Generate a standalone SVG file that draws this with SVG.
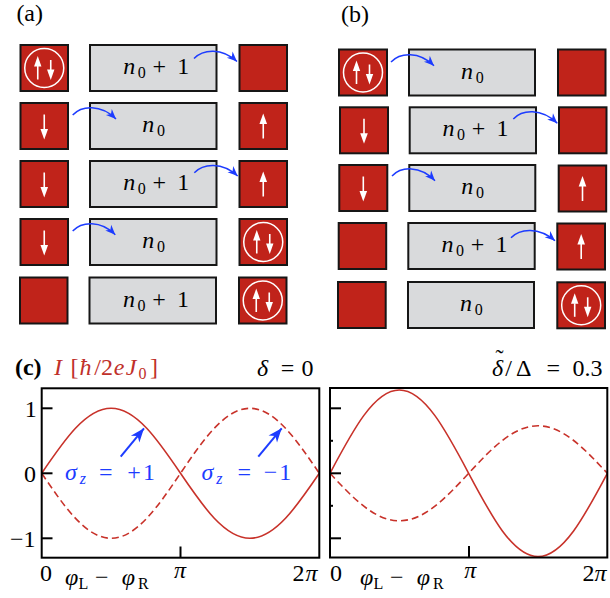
<svg xmlns="http://www.w3.org/2000/svg" xmlns:xlink="http://www.w3.org/1999/xlink" width="610" height="598" viewBox="0 0 610 598">
<style>
.t{font-family:"Liberation Serif","Times New Roman",serif;font-size:24px;fill:#000}
.c{text-anchor:middle}
.i{font-style:italic}
.s{font-size:16px}
.site{fill:#c0231a;stroke:#161616;stroke-width:2}
.dot{fill:#d9dadc;stroke:#161616;stroke-width:2}
.sp line{stroke:#fff;stroke-width:1.6}
.sp polygon{fill:#fff}
.sp circle{fill:none;stroke:#fff;stroke-width:1.5}
.hop{fill:none;stroke:#1d3cff;stroke-width:1.5;marker-end:url(#ah)}
.frame{fill:none;stroke:#000;stroke-width:2}
.tick{stroke:#000;stroke-width:2}
.cur{fill:none;stroke:#c8322a;stroke-width:1.6}
.dash{stroke-dasharray:7 4}
.red{fill:#c0302a}
.blue{fill:#1d3cff}
</style>
<defs>
<marker id="ah" viewBox="-11 -6 12 12" refX="0" refY="0" markerWidth="12" markerHeight="12" markerUnits="userSpaceOnUse" orient="auto">
<path d="M0,0 L-10,-4.2 L-7,0 L-10,4.2 Z" fill="#1d3cff"/>
</marker>
<marker id="ah2" viewBox="-15 -7 16 14" refX="0" refY="0" markerWidth="16" markerHeight="14" markerUnits="userSpaceOnUse" orient="auto">
<path d="M0,0 L-14,-5.5 L-10,0 L-14,5.5 Z" fill="#1d3cff"/>
</marker>
<g id="dn" class="sp"><line x1="0" y1="-11.5" x2="0" y2="4"/><polygon points="-3.8,3 3.8,3 0,13.5"/></g>
<g id="up" class="sp"><line x1="0" y1="12.5" x2="0" y2="-3"/><polygon points="-3.8,-2 3.8,-2 0,-12.5"/></g>
<g id="pair" class="sp"><circle r="19.5"/><line x1="-6.5" y1="11.5" x2="-6.5" y2="-2"/><polygon points="-10.2,-1.5 -2.8,-1.5 -6.5,-12"/><line x1="6.5" y1="-8" x2="6.5" y2="2"/><polygon points="2.8,1.5 10.2,1.5 6.5,12"/></g>
</defs>
<rect width="610" height="598" fill="#fff"/>

<text class="t c" x="29.7" y="21" font-size="22">(a)</text>
<text class="t c" x="355" y="22" font-size="22">(b)</text>

<!-- panel (a) -->
<g id="a1L"><rect class="site" x="20.5" y="45" width="47.5" height="46"/><use xlink:href="#pair" x="44.25" y="68"/></g>
<g id="a1M"><rect class="dot" x="90" y="45" width="126.5" height="46"/><text class="t c"><tspan class="i" x="129.3" y="74">n</tspan><tspan class="s" x="141.8" y="78">0</tspan><tspan x="159.3" y="74">+</tspan><tspan x="183.3" y="74">1</tspan></text></g>
<g id="a1R"><rect class="site" x="239.5" y="45" width="47.5" height="46"/></g>

<g id="a2L"><rect class="site" x="20.5" y="103" width="47.5" height="46"/><use xlink:href="#dn" x="44.25" y="126"/></g>
<g id="a2M"><rect class="dot" x="90" y="103" width="126.5" height="46"/><text class="t c"><tspan class="i" x="148.3" y="132">n</tspan><tspan class="s" x="161" y="136">0</tspan></text></g>
<g id="a2R"><rect class="site" x="239.5" y="103" width="47.5" height="46"/><use xlink:href="#up" x="263.25" y="126"/></g>

<g id="a3L"><rect class="site" x="20.5" y="161" width="47.5" height="46"/><use xlink:href="#dn" x="44.25" y="184"/></g>
<g id="a3M"><rect class="dot" x="90" y="161" width="126.5" height="46"/><text class="t c"><tspan class="i" x="129.3" y="190">n</tspan><tspan class="s" x="141.8" y="194">0</tspan><tspan x="159.3" y="190">+</tspan><tspan x="183.3" y="190">1</tspan></text></g>
<g id="a3R"><rect class="site" x="239.5" y="161" width="47.5" height="46"/><use xlink:href="#up" x="263.25" y="184"/></g>

<g id="a4L"><rect class="site" x="20.5" y="219" width="47.5" height="46"/><use xlink:href="#dn" x="44.25" y="242"/></g>
<g id="a4M"><rect class="dot" x="90" y="219" width="126.5" height="46"/><text class="t c"><tspan class="i" x="148.3" y="248">n</tspan><tspan class="s" x="161" y="252">0</tspan></text></g>
<g id="a4R"><rect class="site" x="239.5" y="219" width="47.5" height="46"/><use xlink:href="#pair" x="263.25" y="242"/></g>

<g id="a5L"><rect class="site" x="20" y="277.5" width="47.5" height="46"/></g>
<g id="a5M"><rect class="dot" x="89.5" y="277.5" width="126.5" height="46"/><text class="t c"><tspan class="i" x="129" y="306.5">n</tspan><tspan class="s" x="141.5" y="310.5">0</tspan><tspan x="159" y="306.5">+</tspan><tspan x="183" y="306.5">1</tspan></text></g>
<g id="a5R"><rect class="site" x="239" y="277.5" width="47.5" height="46"/><use xlink:href="#pair" x="262.75" y="300.5"/></g>

<!-- panel (b) -->
<g id="b1L"><rect class="site" x="339" y="49.5" width="48" height="46"/><use xlink:href="#pair" x="363" y="72.5"/></g>
<g id="b1M"><rect class="dot" x="409" y="49.5" width="126" height="46"/><text class="t c"><tspan class="i" x="467" y="78.5">n</tspan><tspan class="s" x="479.7" y="82.5">0</tspan></text></g>
<g id="b1R"><rect class="site" x="558" y="49.5" width="47.5" height="46"/></g>

<g id="b2L"><rect class="site" x="340" y="107.3" width="48" height="46"/><use xlink:href="#dn" x="364" y="130.3"/></g>
<g id="b2M"><rect class="dot" x="409.7" y="107.3" width="126.3" height="46"/><text class="t c"><tspan class="i" x="448.5" y="136.3">n</tspan><tspan class="s" x="461" y="140.3">0</tspan><tspan x="478.5" y="136.3">+</tspan><tspan x="502.5" y="136.3">1</tspan></text></g>
<g id="b2R"><rect class="site" x="559" y="107.3" width="47.5" height="46"/></g>

<g id="b3L"><rect class="site" x="339.3" y="165" width="48" height="46"/><use xlink:href="#dn" x="363.3" y="188"/></g>
<g id="b3M"><rect class="dot" x="409.3" y="165" width="126" height="46"/><text class="t c"><tspan class="i" x="467.3" y="194">n</tspan><tspan class="s" x="480" y="198">0</tspan></text></g>
<g id="b3R"><rect class="site" x="558.7" y="165.5" width="47.5" height="46"/><use xlink:href="#up" x="582.5" y="188.5"/></g>

<g id="b4L"><rect class="site" x="338.7" y="223" width="47.5" height="46"/></g>
<g id="b4M"><rect class="dot" x="408.3" y="223" width="126.4" height="46"/><text class="t c"><tspan class="i" x="447.5" y="252">n</tspan><tspan class="s" x="460" y="256">0</tspan><tspan x="477.5" y="252">+</tspan><tspan x="501.5" y="252">1</tspan></text></g>
<g id="b4R"><rect class="site" x="557.3" y="223.5" width="47.7" height="46"/><use xlink:href="#up" x="581.2" y="246.5"/></g>

<g id="b5L"><rect class="site" x="338" y="282" width="47.7" height="46"/></g>
<g id="b5M"><rect class="dot" x="408" y="282" width="126" height="46"/><text class="t c"><tspan class="i" x="466" y="311">n</tspan><tspan class="s" x="478.7" y="315">0</tspan></text></g>
<g id="b5R"><rect class="site" x="557.3" y="282.3" width="47.7" height="46"/><use xlink:href="#pair" x="581.2" y="305.3"/></g>

<!-- connectors -->
<g id="connectors">
<path class="hop" d="M194,58.5 C203,49 222,47.5 237,61.5"/>
<path class="hop" d="M72.7,115 C81.7,105.5 100.7,104 116,119"/>
<path class="hop" d="M194.3,172.7 C203.3,163.2 222.3,161.7 237.7,176"/>
<path class="hop" d="M72.7,231 C81.7,221.5 100.7,220 115.3,234.7"/>
<path class="hop" d="M391,62 C400,52.5 419,51 434,65.7"/>
<path class="hop" d="M513.3,119 C522.3,109.5 541.3,108 557.3,123.3"/>
<path class="hop" d="M392,176 C401,166.5 420,165 435,180.7"/>
<path class="hop" d="M511,237.7 C520,228.2 539,226.7 555,240.7"/>
</g>

<!-- panel (c) -->
<g id="plotL">
<path class="cur" d="M41.7,473.3 C64.33,440 85.98,408.3 111.1,408.3 C136.22,408.3 157.87,440 180.5,473.3 C203.13,506.6 224.78,538.3 249.9,538.3 C275.02,538.3 296.67,506.6 319.3,473.3"/>
<path class="cur dash" d="M41.7,473.3 C64.33,506.6 85.98,538.3 111.1,538.3 C136.22,538.3 157.87,506.6 180.5,473.3 C203.13,440 224.78,408.3 249.9,408.3 C275.02,408.3 296.67,440 319.3,473.3"/>
<rect class="frame" x="41.7" y="388.3" width="277.6" height="169.4"/>
<line class="tick" x1="41.7" y1="408.3" x2="52.5" y2="408.3"/>
<line class="tick" x1="41.7" y1="473.3" x2="52.5" y2="473.3"/>
<line class="tick" x1="41.7" y1="538.3" x2="52.5" y2="538.3"/>
<line class="tick" x1="180.5" y1="557.7" x2="180.5" y2="546.5"/>
<text class="t c" x="30.8" y="416.5">1</text>
<text class="t c" x="30" y="481.5">0</text>
<text class="t" x="35.5" y="546.5" text-anchor="end">−1</text>
<text class="t c" x="46" y="580.5">0</text>
<text class="t c i" x="180" y="578">π</text>
<text class="t c"><tspan x="298.5" y="580.5">2</tspan><tspan class="i" x="311.5" y="580.5">π</tspan></text>
<text class="t c"><tspan class="i" x="71.7" y="585">φ</tspan><tspan class="s" x="83.5" y="589">L</tspan><tspan x="101.7" y="585">−</tspan><tspan class="i" x="128.3" y="585">φ</tspan><tspan class="s" x="143.3" y="589">R</tspan></text>
</g>

<g id="plotR">
<path class="cur" d="M330,473.3 C352.61,430.6 374.24,390 399.33,390 C424.42,390 446.05,430.6 468.66,473.3 C491.27,516 512.9,556.6 537.99,556.6 C563.08,556.6 584.71,516 607.32,473.3"/>
<path class="cur dash" d="M330,473.3 C352.61,497.6 374.24,520.8 399.33,520.8 C424.42,520.8 446.05,497.6 468.66,473.3 C491.27,449 512.9,425.8 537.99,425.8 C563.08,425.8 584.71,449 607.32,473.3"/>
<rect class="frame" x="330" y="388" width="277.3" height="169.5"/>
<line class="tick" x1="330" y1="408.3" x2="341" y2="408.3"/>
<line class="tick" x1="330" y1="473.3" x2="341" y2="473.3"/>
<line class="tick" x1="330" y1="538.3" x2="341" y2="538.3"/>
<line class="tick" x1="330" y1="440.8" x2="333" y2="440.8" stroke-width="1"/>
<line class="tick" x1="330" y1="505.8" x2="333" y2="505.8" stroke-width="1"/>
<line class="tick" x1="469" y1="557.5" x2="469" y2="546"/>
<text class="t c" x="336" y="580.5">0</text>
<text class="t c i" x="470.3" y="578">π</text>
<text class="t c"><tspan x="588.5" y="580.5">2</tspan><tspan class="i" x="600.5" y="580.5">π</tspan></text>
<text class="t c"><tspan class="i" x="366.7" y="585">φ</tspan><tspan class="s" x="378.5" y="589">L</tspan><tspan x="396.7" y="585">−</tspan><tspan class="i" x="423.3" y="585">φ</tspan><tspan class="s" x="438.3" y="589">R</tspan></text>
</g>

<g id="titles">
<text class="t c" x="28.3" y="374.5" font-weight="bold" font-size="22">(c)</text>
<text class="t c red" font-size="23"><tspan class="i" x="58" y="374.5">I</tspan><tspan x="74.5" y="374.5">[</tspan><tspan class="i" x="85.5" y="374.5">ħ</tspan><tspan x="97.5" y="374.5">/</tspan><tspan x="107" y="374.5">2</tspan><tspan class="i" x="119" y="374.5">e</tspan><tspan class="i" x="131" y="374.5">J</tspan><tspan class="s" x="142.5" y="378.5">0</tspan><tspan x="154" y="374.5">]</tspan></text>
<text class="t c"><tspan class="i" x="262.5" y="375.5">δ</tspan><tspan x="287.5" y="375.5">=</tspan><tspan x="307.5" y="375.5">0</tspan></text>
<text class="t c"><tspan x="499.5" y="366">˜</tspan><tspan class="i" x="497.5" y="376">δ</tspan><tspan x="508.5" y="376">/</tspan><tspan x="523.8" y="376">Δ</tspan><tspan x="553.3" y="376">=</tspan><tspan x="587.5" y="376">0.3</tspan></text>
</g>

<g id="annotations">
<line x1="120.7" y1="456.7" x2="144" y2="428.3" stroke="#1d3cff" stroke-width="2" marker-end="url(#ah2)"/>
<line x1="258.3" y1="456.7" x2="281.7" y2="428.3" stroke="#1d3cff" stroke-width="2" marker-end="url(#ah2)"/>
<text class="t c blue"><tspan class="i" x="70.8" y="480">σ</tspan><tspan class="s i" x="82.8" y="484">z</tspan><tspan x="105.8" y="480">=</tspan><tspan x="134" y="480">+</tspan><tspan x="149" y="480">1</tspan></text>
<text class="t c blue"><tspan class="i" x="207.5" y="480">σ</tspan><tspan class="s i" x="219.3" y="484">z</tspan><tspan x="244.2" y="480">=</tspan><tspan x="270.5" y="480">−</tspan><tspan x="285.3" y="480">1</tspan></text>
</g>
</svg>
